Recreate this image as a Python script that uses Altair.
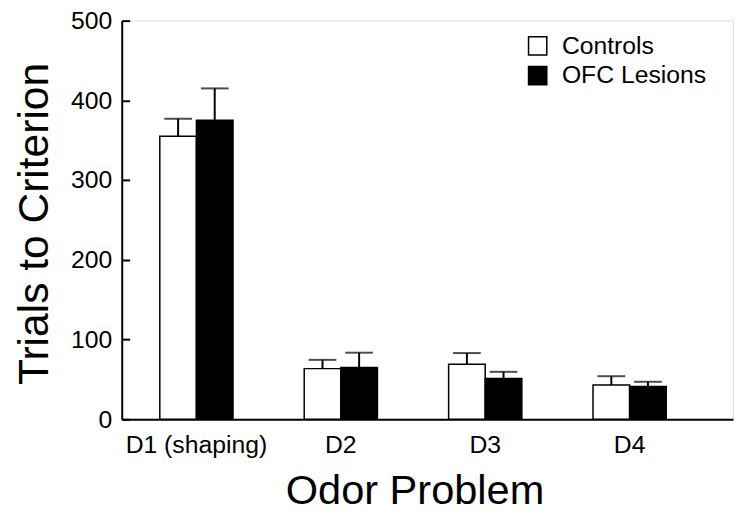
import altair as alt
import pandas as pd

problems = ["D1 (shaping)", "D2", "D3", "D4"]
groups = ["Controls", "OFC Lesions"]
controls_mean = [355, 63.5, 69, 43]
controls_upper = [377, 74.5, 83, 54]
ofc_mean = [375, 65, 51, 41]
ofc_upper = [415, 83.5, 59.5, 47]
y_ticks = [0, 100, 200, 300, 400, 500]

rows = []
for i, p in enumerate(problems):
    rows.append({"problem": p, "group": groups[0], "mean": controls_mean[i], "upper": controls_upper[i]})
    rows.append({"problem": p, "group": groups[1], "mean": ofc_mean[i], "upper": ofc_upper[i]})
df = pd.DataFrame(rows)

FONT = "Liberation Sans"
W, H = 618, 403

x_enc = alt.X(
    "problem:N",
    sort=problems,
    scale=alt.Scale(paddingInner=0.493, paddingOuter=0.363, align=0.363),
    axis=alt.Axis(
        title="Odor Problem", labelAngle=0, ticks=False, labelFontSize=25,
        labelPadding=14, titleFontSize=42, titleFontWeight="normal",
        titleBaseline="alphabetic", titleY=85, titleX=296,
        domainWidth=2, domainColor="black",
        labelColor="black", titleColor="black", labelFont=FONT, titleFont=FONT,
    ),
)
xoff = alt.XOffset("group:N", sort=groups, scale=alt.Scale(paddingInner=0, paddingOuter=0))

y_scale = alt.Scale(domain=[0, 500], nice=False)

bars = alt.Chart(df).mark_bar(stroke="black", strokeWidth=1.5).encode(
    x=x_enc,
    xOffset=xoff,
    y=alt.Y(
        "mean:Q", scale=y_scale,
        axis=alt.Axis(
            title="Trials to Criterion", values=y_ticks, ticks=False,
            grid=True, gridDash=[8, 3000], gridColor="black", gridWidth=2,
            labelFontSize=25, labelPadding=10, titleFontSize=43,
            titleFontWeight="normal", titleBaseline="alphabetic",
            titleX=-75, titleY=205, domainWidth=2,
            domainColor="black", labelColor="black", titleColor="black",
            labelFont=FONT, titleFont=FONT,
        ),
    ),
    fill=alt.Fill(
        "group:N", sort=groups,
        scale=alt.Scale(domain=groups, range=["white", "black"]),
        legend=alt.Legend(
            title=None, orient="none", legendX=408, legendY=13,
            symbolType="square", symbolSize=340, symbolStrokeColor="black",
            symbolStrokeWidth=1.5, labelFontSize=25, labelFont=FONT,
            labelColor="black", rowPadding=4, labelOffset=12,
        ),
    ),
)

err = alt.Chart(df).mark_rule(color="black", strokeWidth=2).encode(
    x=alt.X("problem:N", sort=problems),
    xOffset=xoff,
    y=alt.Y("mean:Q", scale=y_scale),
    y2="upper:Q",
)
caps = alt.Chart(df).mark_tick(color="black", thickness=2, size=28).encode(
    x=alt.X("problem:N", sort=problems),
    xOffset=xoff,
    y=alt.Y("upper:Q", scale=y_scale),
)

chart = alt.layer(bars, err, caps).properties(
    width=W, height=H,
    autosize=alt.AutoSizeParams(type="none"),
    padding={"left": 115, "top": 10, "right": 1, "bottom": 93},
).configure_view(stroke=None).configure_axis(grid=False).configure(background="white")

chart.save("out.html", embed_options={"renderer": "svg", "actions": False})
